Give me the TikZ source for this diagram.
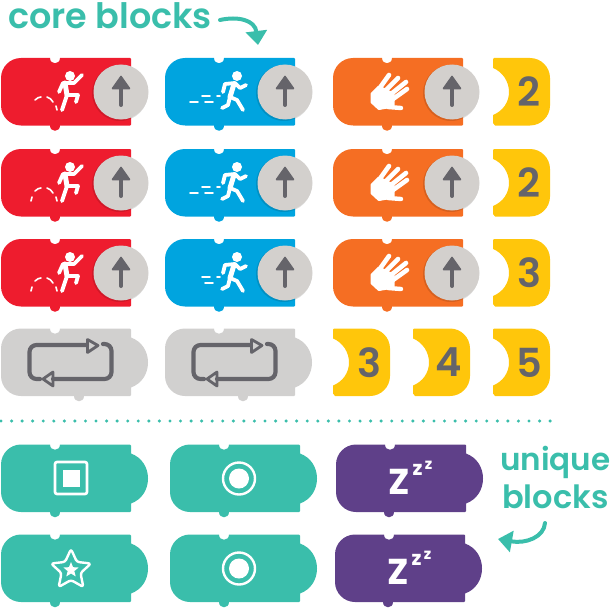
\documentclass[tikz,border=0pt]{standalone}
\usepackage{fontspec}
\setmainfont{Poppins}[UprightFont=* Medium, BoldFont=* SemiBold]
\newfontfamily\sleepfont{Poppins Bold}
\usetikzlibrary{arrows.meta}

\definecolor{blockred}{HTML}{EE1C2E}
\definecolor{blockblue}{HTML}{00A4DF}
\definecolor{blockorange}{HTML}{F56E23}
\definecolor{blockyellow}{HTML}{FFC60B}
\definecolor{blockgrey}{HTML}{D1D0CF}
\definecolor{blockteal}{HTML}{3ABEAB}
\definecolor{blockpurple}{HTML}{5F4089}
\definecolor{buttongrey}{HTML}{D3D0CD}
\definecolor{icongrey}{HTML}{65646A}

\tikzset{
  whiteline/.style={draw=white, line width=3.8pt, line cap=round, line join=round},
  thindash/.style={draw=white, line width=1.6pt, line cap=round},
  loopline/.style={draw=icongrey, line width=4.2pt, line cap=round, line join=round},
  handarrow/.style={draw=blockteal, line width=4pt, line cap=round, -{Triangle[width=21pt,length=14pt]}},
  handlabel/.style={text=blockteal, font=\bfseries\fontsize{35}{35}\selectfont, inner sep=0pt},
  digit/.style={text=icongrey, font=\bfseries\fontsize{40}{40}\selectfont, inner sep=0pt},
  sleepz/.style={text=white, inner sep=0pt},
}

% right side of a block
\def\flatside{-- (129,0) -- (130,1) -- (130,66.5) -- (129,67.5)}
\def\noseside{-- (129,0) -- (130,1) -- (130,9) .. controls (141,13) and (147,23) .. (147,34) .. controls (147,45) and (141,55) .. (130,59) -- (130,66.5) -- (129,67.5)}

% x, y, colour, bottom bump, right side
\newcommand{\blockbody}[5]{
  \fill[#3, shift={(#1,#2)}] (0,20) .. controls (0,9) and (9,0) .. (20,0) -- (49,0)
    .. controls (49,7) and (59,7) .. (59,0) #5
    -- (#4+5,67.5) .. controls (#4+5,74.5) and (#4-5,74.5) .. (#4-5,67.5)
    -- (20,67.5) .. controls (9,67.5) and (0,58.5) .. (0,47.5) -- cycle;
}

% x, y of the button centre
\newcommand{\upbutton}[2]{
  \begin{scope}[shift={(#1,#2)}]
    \fill[black, opacity=0.12] (-1,1) circle[radius=28];
    \fill[buttongrey] (0,0) circle[radius=27.5];
    \draw[icongrey, line width=4pt, line cap=round] (0,-4) -- (0,13);
    \filldraw[icongrey, line width=1.6pt, line join=round] (0,-15.5) -- (8.5,-3.5) -- (-8.5,-3.5) -- cycle;
  \end{scope}
}

\newcommand{\jumper}[2]{
  \begin{scope}[shift={(#1,#2)}]
    \fill[white] (69,18) circle[radius=5];
    \draw[whiteline] (58,34) -- (62,25) -- (73,25) -- (81,17);
    \draw[whiteline, line width=5pt] (64,25) -- (66,37);
    \draw[whiteline] (61,52) -- (66,37) -- (77,37) -- (75,44);
    \draw[thindash] (34,42) .. controls (36,40) and (38,39) .. (40,39);
    \draw[thindash] (46,39) .. controls (48,40) and (51,41) .. (52,44);
    \draw[thindash] (55,48) -- (56,52);
  \end{scope}
}

\newcommand{\runner}[2]{
  \begin{scope}[shift={(#1,#2)}]
    \fill[white] (72,18) circle[radius=5];
    \draw[whiteline] (58,34) -- (60,26) -- (70,25) -- (75,30) -- (81,27);
    \draw[whiteline, line width=5pt] (69,26) -- (65,39);
    \draw[whiteline] (65,39) -- (72,42) -- (78,52);
    \draw[whiteline] (65,39) -- (63,47) -- (57,50);
    \draw[thindash] (40,44) -- (48,44);
    \draw[thindash] (37,38) -- (45,38);
    \draw[thindash] (52,38) -- (55,38);
  \end{scope}
}

\newcommand{\waving}[2]{
  \begin{scope}[shift={(#1,#2)}]
    \filldraw[white, line width=3pt, line join=round] (39,36) -- (46,29) -- (60,36) -- (60,48) -- (46,50.5) -- (39,44) -- cycle;
    \draw[whiteline, line width=4.6pt] (46,31) -- (56,17);
    \draw[whiteline, line width=4.6pt] (53,32) -- (65,20);
    \draw[whiteline, line width=4.6pt] (58,36) -- (73,24);
    \draw[whiteline, line width=4.6pt] (60,41) -- (74,31);
    \draw[whiteline, line width=4.4pt] (55,49) -- (68,50);
  \end{scope}
}

\newcommand{\looparrows}[2]{
  \begin{scope}[shift={(#1,#2)}]
    \draw[loopline, rounded corners=7pt] (86,17) -- (28.5,17) -- (28.5,51) -- (39,51);
    \draw[loopline, rounded corners=7pt] (102,16) -- (110.5,16) -- (110.5,51) -- (52,51);
    \draw[icongrey, line width=2.8pt, line join=round] (86.5,11.5) -- (97,17.5) -- (86.5,24.5) -- cycle;
    \draw[icongrey, line width=2.8pt, line join=round] (52,44) -- (42,51) -- (52,58) -- cycle;
  \end{scope}
}

% x, y, number, node name
\newcommand{\numbertag}[4]{
  \fill[blockyellow, shift={(#1,#2)}] (1,0) -- (37,0) .. controls (48,0) and (57,9) .. (57,20) -- (57,47.5)
    .. controls (57,58.5) and (48,67.5) .. (37,67.5) -- (2,67.5) -- (0,65) -- (0,57)
    .. controls (10,53) and (16,44) .. (16,34) .. controls (16,24) and (10,14) .. (0,10) -- (0,1) -- cycle;
  \node[digit] (#4) at (#1+36,#2+34) {#3};
}

% x, y, node name
\newcommand{\sleepmark}[3]{
  \node[sleepz, font=\sleepfont\fontsize{36}{36}\selectfont] (#3big) at (#1+63,#2+37) {Z};
  \node[sleepz, font=\sleepfont\fontsize{20}{20}\selectfont] (#3mid) at (#1+81.5,#2+25.5) {z};
  \node[sleepz, font=\sleepfont\fontsize{15}{15}\selectfont] (#3small) at (#1+92.5,#2+20.5) {z};
}

\begin{document}
\begin{tikzpicture}[x=1pt,y=-1pt]
  \useasboundingbox (0,0) rectangle (612,607);

  % top three rows
  \foreach \rowy/\num/\extra in {58/2/0, 149/2/1, 239/3/2} {
    \blockbody{1}{\rowy}{blockred}{54}{\flatside}
    \jumper{1}{\rowy}
    \ifnum\extra>0 \draw[thindash, shift={(1,\rowy)}] (30,52) -- (31,48); \fi
    \upbutton{121}{\rowy+34}

    \blockbody{165}{\rowy}{blockblue}{54}{\flatside}
    \runner{165}{\rowy}
    \ifnum\extra<2 \draw[thindash, shift={(165,\rowy)}] (25,44) -- (33,44); \fi
    \upbutton{285}{\rowy+34}

    \blockbody{333}{\rowy}{blockorange}{54}{\flatside}
    \waving{333}{\rowy}
    \upbutton{452}{\rowy+34}

    \numbertag{493}{\rowy}{\num}{tag\rowy}
  }

  % repeat row
  \blockbody{1}{328.5}{blockgrey}{78}{\noseside}
  \looparrows{1}{328}
  \blockbody{165}{328.5}{blockgrey}{78}{\noseside}
  \looparrows{165}{328}
  \numbertag{333}{328.5}{3}{tagthree}
  \numbertag{413}{328.5}{4}{tagfour}
  \numbertag{493}{328.5}{5}{tagfive}

  % divider
  \coordinate (divstart) at (1,421);
  \coordinate (divend) at (551,421);
  \draw[blockteal, line width=3.4pt, line cap=round, dash pattern=on 0pt off 10.56pt] (divstart) -- (divend);

  % bottom rows
  \blockbody{1}{444.5}{blockteal}{54}{\noseside}
  \blockbody{170}{444.5}{blockteal}{54}{\noseside}
  \blockbody{336}{444.5}{blockpurple}{53}{\noseside}
  \blockbody{1}{534.5}{blockteal}{54}{\noseside}
  \blockbody{170}{534.5}{blockteal}{54}{\noseside}
  \blockbody{335}{534.5}{blockpurple}{53}{\noseside}

  \draw[white, line width=2.6pt, rounded corners=2pt] (55,462) rectangle (87,494);
  \fill[white] (62.5,469.5) rectangle (79.5,486.5);
  \foreach \rowy in {478.5,568.5} {
    \draw[white, line width=2.4pt] (239,\rowy) circle[radius=16];
    \fill[white] (239,\rowy) circle[radius=10];
  }
  \draw[white, line width=2.4pt, line join=round, rounded corners=2.5pt, shift={(71,570)}]
    (-90:21) -- (-54:10) -- (-18:21) -- (18:10) -- (54:21) -- (90:10)
    -- (126:21) -- (162:10) -- (198:21) -- (234:10) -- cycle;
  \fill[white, shift={(71,570)}]
    (-90:8) -- (-54:3.5) -- (-18:8) -- (18:3.5) -- (54:8) -- (90:3.5)
    -- (126:8) -- (162:3.5) -- (198:8) -- (234:3.5) -- cycle;

  \sleepmark{336}{444.5}{sleepone}
  \sleepmark{335}{534.5}{sleeptwo}

  % labels
  \node[handlabel, anchor=base west] (corelabel) at (8,29) {core blocks};
  \coordinate (corestart) at (220,20);
  \coordinate (coretip) at (258,45);
  \draw[handarrow] (corestart) .. controls (238,16) and (255,20) .. (coretip);

  \node[handlabel, font=\bfseries\fontsize{31}{31}\selectfont, anchor=base west] (uniquelabel) at (500,470) {unique};
  \node[handlabel, font=\bfseries\fontsize{32}{32}\selectfont, anchor=base west] (blockslabel) at (502,508) {blocks};
  \coordinate (uniquestart) at (545,523);
  \coordinate (uniquetip) at (498,539);
  \draw[handarrow] (uniquestart) .. controls (544,537) and (526,544) .. (uniquetip);
\end{tikzpicture}
\end{document}
